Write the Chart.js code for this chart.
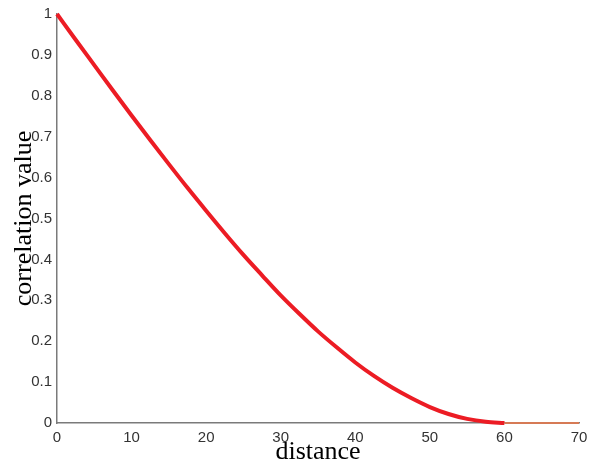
<!DOCTYPE html>
<html>
<head>
<meta charset="utf-8">
<script src="https://cdn.jsdelivr.net/npm/chart.js@4"></script>
<style>
  html, body { margin: 0; padding: 0; background: #fff; }
  #chart { display: block; }
</style>
</head>
<body>
<canvas id="chart" width="602" height="465"></canvas>
<script>
// values
const distance = [0, 2.5, 5, 7.5, 10, 12.5, 15, 17.5, 20, 22.5, 25, 27.5, 30,
                  32.5, 35, 37.5, 40, 42.5, 45, 47.5, 50, 52.5, 55, 57.5, 60];
const correlation = [1, 0.937, 0.875, 0.813, 0.752, 0.692, 0.633, 0.575, 0.519, 0.464,
                     0.411, 0.361, 0.312, 0.267, 0.224, 0.185, 0.148, 0.115, 0.086,
                     0.061, 0.039, 0.022, 0.010, 0.003, 0];
const tailDistance = [60, 70];
const tailValue = [0, 0];

const xTicks = [0, 10, 20, 30, 40, 50, 60, 70];
const yTicks = [0, 0.1, 0.2, 0.3, 0.4, 0.5, 0.6, 0.7, 0.8, 0.9, 1];

const curve = distance.map((d, i) => ({ x: d, y: correlation[i] }));
const tail = tailDistance.map((d, i) => ({ x: d, y: tailValue[i] }));

const tickFont = { family: "'Liberation Sans', Arial, sans-serif", size: 15 };
const titleFont = { family: "'Liberation Serif', 'Times New Roman', serif", size: 26, lineHeight: 1 };

new Chart(document.getElementById("chart"), {
    type: 'line',
    data: {
        datasets: [
            {
                data: tail,
                borderColor: '#d67a55',
                borderWidth: 2,
                pointRadius: 0,
                clip: false
            },
            {
                data: curve,
                borderColor: '#ec1c24',
                borderWidth: 4,
                pointRadius: 0,
                cubicInterpolationMode: 'monotone',
                clip: false
            }
        ]
    },
    options: {
        responsive: false,
        animation: false,
        devicePixelRatio: 1,
        layout: { padding: { top: 10, right: 23, left: 0, bottom: 0 } },
        plugins: {
            legend: { display: false },
            tooltip: { enabled: false }
        },
        scales: {
            x: {
                type: 'linear',
                min: 0,
                max: 70,
                afterBuildTicks: s => { s.ticks = xTicks.map(v => ({ value: v })); },
                afterFit: s => { s.height = 42; },
                grid: { display: false, drawTicks: false },
                border: { display: true, color: '#7a7a7a', width: 1.5 },
                ticks: { color: '#333', font: tickFont, padding: 6, maxRotation: 0 },
                title: { display: true, text: 'distance', color: '#000', font: titleFont, padding: { top: 0, bottom: 0 } }
            },
            y: {
                min: 0,
                max: 1,
                afterBuildTicks: s => { s.ticks = yTicks.map(v => ({ value: v })); },
                afterFit: s => { s.width = 57; },
                grid: { display: false, drawTicks: false },
                border: { display: true, color: '#7a7a7a', width: 1.5 },
                ticks: {
                    color: '#333',
                    font: tickFont,
                    padding: 5,
                    callback: v => String(Math.round(v * 10) / 10)
                },
                title: { display: true, text: 'correlation value', color: '#000', font: titleFont, padding: { top: 11, bottom: 0 } }
            }
        }
    }
});
</script>
</body>
</html>
